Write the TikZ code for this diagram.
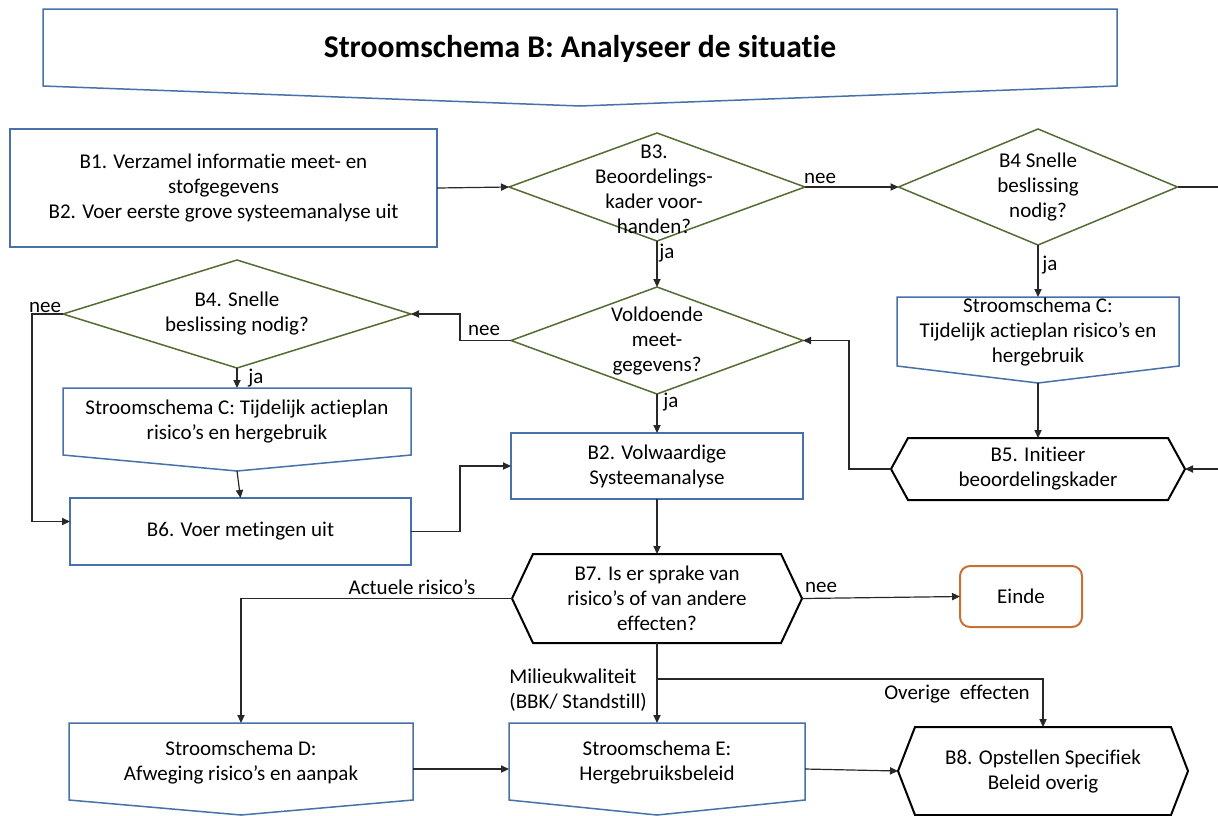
\documentclass[tikz,border=0pt]{standalone}
\usepackage{fontspec}
\setmainfont{Carlito}[Ligatures=NoCommon]
\usetikzlibrary{shapes.geometric,calc,arrows.meta}

\definecolor{boxblue}{RGB}{72,112,170}
\definecolor{diagreen}{RGB}{84,108,52}
\definecolor{eindeorange}{RGB}{200,112,52}
\definecolor{linegray}{RGB}{40,40,40}

\newcommand\bodyfont{\fontsize{10.5}{12.5}\selectfont}
\newcommand\titlefont{\fontsize{15.8}{18}\selectfont\bfseries}

\tikzset{
  frame/.style 2 args={draw=none, inner sep=0pt, outer sep=0pt,
    minimum width=#1*0.5pt, minimum height=#2*0.5pt, font=\bodyfont, align=center},
  decision/.style 2 args={diamond, draw=diagreen, line width=0.75pt, inner sep=0pt,
    outer sep=0pt, minimum width=#1*0.5pt, minimum height=#2*0.5pt},
  txt/.style={font=\bodyfont, align=center, inner sep=0pt},
  lbl/.style={font=\bodyfont, inner sep=0pt},
  bluebox/.style={draw=boxblue, line width=0.75pt},
  hexline/.style={draw=black, line width=1pt},
  conn/.style={draw=linegray, line width=0.6pt},
  arr/.style={conn, -{Triangle[length=4pt,width=3.6pt]}},
}

% off-page box: rectangle whose bottom edge runs down to a point
\newcommand\offpageoutline[2]{%
  \draw[bluebox] (#1.north west) -- (#1.north east) -- ($(#1.south east)+(0,-#2)$)
    -- (#1.south) -- ($(#1.south west)+(0,-#2)$) -- cycle;}
% hexagon drawn inside a frame node, corners set in by #2
\newcommand\hexoutline[2]{%
  \draw[hexline] (#1.west) -- ($(#1.north west)+(#2,0)$) -- ($(#1.north east)+(-#2,0)$)
    -- (#1.east) -- ($(#1.south east)+(-#2,0)$) -- ($(#1.south west)+(#2,0)$) -- cycle;}

\begin{document}
\begin{tikzpicture}[x=0.5pt,y=-0.5pt]
\path[fill=white,use as bounding box] (0,0) rectangle (1218,815);

% title banner
\node[frame={1074}{97}] (title) at (580,57.5) {};
\offpageoutline{title}{20}
\node[font=\titlefont, inner sep=0pt] (titletext) at (580,49) {Stroomschema B: Analyseer de situatie};

% first row
\node[frame={427}{118}, bluebox] (b1) at (223.5,188)
  {B1. Verzamel informatie meet- en\\stofgegevens\\B2. Voer eerste grove systeemanalyse uit};

\node[decision={296}{108}] (b3) at (657,187) {};
\node[txt] (b3t) at (654,189) {B3.\\Beoordelings-\\kader voor-\\handen?};

\node[decision={279}{116}] (b4r) at (1038,187) {};
\node[txt] (b4rt) at (1038,187) {B4 Snelle\\beslissing\\nodig?};

% right column
\node[frame={282}{86}] (cr) at (1038,340) {};
\offpageoutline{cr}{17}
\node[txt] (crt) at (1038,332) {Stroomschema C:\\Tijdelijk actieplan risico’s en\\hergebruik};

\node[frame={294}{62}] (b5) at (1038,469) {B5. Initieer\\beoordelingskader};
\hexoutline{b5}{17}

% middle column
\node[decision={292}{107}] (vol) at (657,340.5) {};
\node[txt] (volt) at (657,341) {Voldoende\\meet-\\gegevens?};

\node[frame={292}{66}, bluebox] (vw) at (657,466) {B2. Volwaardige\\Systeemanalyse};

\node[frame={290}{89}] (b7) at (657,598.5) {B7. Is er sprake van\\risico’s of van andere\\effecten?};
\hexoutline{b7}{21}

% left column
\node[decision={348}{108}] (b4l) at (237,314) {};
\node[txt] (b4lt) at (237,314) {B4. Snelle\\beslissing nodig?};

\node[frame={348}{83}] (cl) at (237,429.5) {};
\offpageoutline{cl}{16}
\node[txt] (clt) at (237,422) {Stroomschema C: Tijdelijk actieplan\\risico’s en hergebruik};

\node[frame={341}{67}, bluebox] (b6) at (240.5,531.5) {B6. Voer metingen uit};

% end and bottom row
\node[frame={122}{61}, draw=eindeorange, line width=1pt, rounded corners=5pt] (einde) at (1021,596.5) {Einde};

\node[frame={344}{92}] (d) at (241,769) {};
\offpageoutline{d}{15}
\node[txt] (dt) at (241,762) {Stroomschema D:\\Afweging risico’s en aanpak};

\node[frame={296}{92}] (e) at (657,769) {};
\offpageoutline{e}{15}
\node[txt] (et) at (657,762) {Stroomschema E:\\Hergebruiksbeleid};

\node[frame={290}{88}] (b8) at (1043,771) {B8. Opstellen Specifiek\\Beleid overig};
\hexoutline{b8}{17}

% connectors
\coordinate (rim) at (1224,330);
\coordinate (fb) at (849,340.5);
\coordinate (br) at (657,679);

\draw[arr] (b1.east) -- (b3.west);
\draw[arr] (b3.east) -- (b4r.west);
\draw[arr] (b4r.east) -| (rim) |- (b5.east);
\draw[arr] (b4r.south) -- (cr.north);
\draw[arr] (cr.south) -- (b5.north);
\draw[arr] (b5.west) -| (fb) -- (vol.east);
\draw[arr] (b3.south) -- (vol.north);
\draw[arr] (vol.south) -- (vw.north);
\draw[arr] (vol.west) -- ++(-51,0) |- (b4l.east);
\draw[arr] (b4l.west) -- ++(-31,0) |- ([yshift=5pt]b6.west);
\draw[arr] (b4l.south) -- (cl.north);
\draw[arr] (cl.south) -- (b6.north);
\draw[arr] (b6.east) -- ++(49,0) |- (vw.west);
\draw[arr] (vw.south) -- (b7.north);
\draw[arr] (b7.east) -- (einde.west);
\draw[arr] (b7.west) -| (d.north);
\draw[arr] (b7.south) -- (e.north);
\draw[arr] (br) -| (b8.north);
\draw[arr] (d.east) -- (e.west);
\draw[arr] (e.east) -- (b8.west);

% connector labels
\node[lbl] (nee1) at (820,178) {nee};
\node[lbl] (nee2) at (45,307) {nee};
\node[lbl] (nee3) at (484,330) {nee};
\node[lbl] (nee4) at (821,587) {nee};
\node[lbl] (ja1) at (667,253) {ja};
\node[lbl] (ja2) at (1050,265) {ja};
\node[lbl] (ja3) at (256,378) {ja};
\node[lbl] (ja4) at (671,402) {ja};
\node[lbl] (actueel) at (412,587) {Actuele risico’s};
\node[lbl, align=left, anchor=west] (milieu) at (509,690) {Milieukwaliteit\\(BBK/ Standstill)};
\node[lbl] (overig) at (957,694) {Overige\ \ effecten};
\end{tikzpicture}
\end{document}
